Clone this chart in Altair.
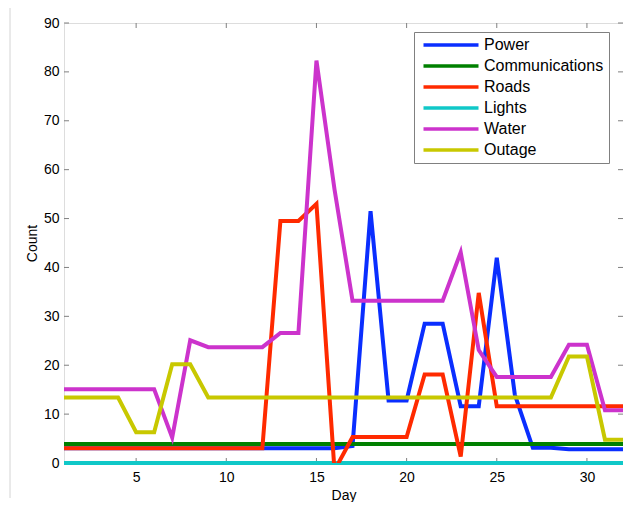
import altair as alt
import pandas as pd

days = list(range(1, 33))
series_names = ["Power", "Communications", "Roads", "Lights", "Water", "Outage"]
series_colors = ["#0a2eff", "#008000", "#ff2a00", "#10c8c8", "#cc33cc", "#c8c800"]

power = [3, 3, 3, 3, 3, 3, 3, 3, 3, 3, 3, 3, 3, 3, 3, 3,
         3.5, 51.5, 12.8, 12.8, 28.5, 28.5, 11.6, 11.6, 42, 14,
         3.1, 3.1, 2.8, 2.8, 2.8, 2.8]
communications = [3.9] * 32
roads = [3, 3, 3, 3, 3, 3, 3, 3, 3, 3, 3, 3, 49.5, 49.5, 53, -1.5,
         5.3, 5.3, 5.3, 5.3, 18.1, 18.1, 1.3, 34.8, 11.6, 11.6,
         11.6, 11.6, 11.6, 11.6, 11.6, 11.6]
lights = [0] * 32
water = [15.1, 15.1, 15.1, 15.1, 15.1, 15.1, 5.2, 25.1, 23.7, 23.7, 23.7, 23.7,
         26.6, 26.6, 82.3, 56, 33.2, 33.2, 33.2, 33.2, 33.2, 33.2, 43.1, 23.1,
         17.6, 17.6, 17.6, 17.6, 24.2, 24.2, 10.8, 10.8]
outage = [13.4, 13.4, 13.4, 13.4, 6.3, 6.3, 20.2, 20.2, 13.4, 13.4, 13.4, 13.4,
          13.4, 13.4, 13.4, 13.4, 13.4, 13.4, 13.4, 13.4, 13.4, 13.4, 13.4, 13.4,
          13.4, 13.4, 13.4, 13.4, 21.8, 21.8, 4.75, 4.75]

x_ticks = [5, 10, 15, 20, 25, 30]
y_ticks = [0, 10, 20, 30, 40, 50, 60, 70, 80, 90]

values = [power, communications, roads, lights, water, outage]
rows = []
for name, vals in zip(series_names, values):
    for d, v in zip(days, vals):
        rows.append({"Day": d, "Count": v, "Series": name})
df = pd.DataFrame(rows)

W, H = 559, 440
FONT = "Liberation Sans"
GRAY = "#808080"

xscale = alt.Scale(domain=[1, 32], nice=False, zero=False)
yscale = alt.Scale(domain=[0, 90], nice=False)
legend = alt.Legend(
    title=None, orient="none", legendX=350, legendY=9,
    symbolType="M-5,0L5,0", symbolSize=121, symbolStrokeWidth=3.5,
    symbolFillColor="transparent",
    rowPadding=5, padding=5, symbolOffset=24,
    labelFontSize=16, labelFont=FONT, labelColor="black", labelOffset=25,
    strokeColor=GRAY, fillColor="white", cornerRadius=0, labelLimit=300,
)
color = alt.Color("Series:N",
                  scale=alt.Scale(domain=series_names, range=series_colors),
                  sort=series_names, legend=legend)

xaxis = alt.Axis(values=x_ticks, ticks=False, domain=False, grid=False,
                 labelFontSize=14, labelFont=FONT, labelColor="black",
                 labelPadding=7, title="Day", titleFontSize=14, titleFont=FONT,
                 titleFontWeight="normal", titlePadding=4, titleColor="black")
yaxis = alt.Axis(values=y_ticks, ticks=False, domain=False, grid=False,
                 labelFontSize=14, labelFont=FONT, labelColor="black",
                 labelPadding=5, title="Count", titleFontSize=14, titleFont=FONT,
                 titleFontWeight="normal", titlePadding=4, titleColor="black")

base = alt.Chart(df)

lights_layer = base.transform_filter(alt.datum.Series == "Lights").mark_line(
    strokeWidth=4, clip=False, strokeJoin="miter"
).encode(
    x=alt.X("Day:Q", scale=xscale, axis=xaxis),
    y=alt.Y("Count:Q", scale=yscale, axis=yaxis),
    color=color,
)

main_layer = base.transform_filter(alt.datum.Series != "Lights").mark_line(
    strokeWidth=4, clip=True, strokeJoin="miter"
).encode(
    x=alt.X("Day:Q", scale=xscale),
    y=alt.Y("Count:Q", scale=yscale),
    color=color,
)

xt = pd.DataFrame({"t": x_ticks})
yt = pd.DataFrame({"t": y_ticks})

tick_bottom = alt.Chart(xt).mark_rule(color=GRAY, strokeWidth=1).encode(
    x=alt.X("t:Q", scale=xscale), y=alt.value(H), y2=alt.value(H - 5))
tick_top = alt.Chart(xt).mark_rule(color=GRAY, strokeWidth=1).encode(
    x=alt.X("t:Q", scale=xscale), y=alt.value(0), y2=alt.value(5))
tick_left = alt.Chart(yt).mark_rule(color=GRAY, strokeWidth=1).encode(
    y=alt.Y("t:Q", scale=yscale), x=alt.value(0), x2=alt.value(5))
tick_right = alt.Chart(yt).mark_rule(color=GRAY, strokeWidth=1).encode(
    y=alt.Y("t:Q", scale=yscale), x=alt.value(W), x2=alt.value(W - 5))

border = alt.Chart(pd.DataFrame({"a": [0]})).mark_rule(color="#d4d4d4", strokeWidth=1).encode(
    x=alt.value(-54), y=alt.value(-23), y2=alt.value(475))

chart = alt.layer(
    tick_bottom, tick_top, tick_left, tick_right, lights_layer, main_layer, border
).properties(
    width=W, height=H,
    autosize=alt.AutoSizeParams(type="none"),
    padding={"left": 56, "top": 15, "right": 0, "bottom": 39},
).configure_view(
    stroke=GRAY, strokeWidth=1
).configure(background="white")

chart.save("out.html", embed_options={"renderer": "svg", "actions": False})
